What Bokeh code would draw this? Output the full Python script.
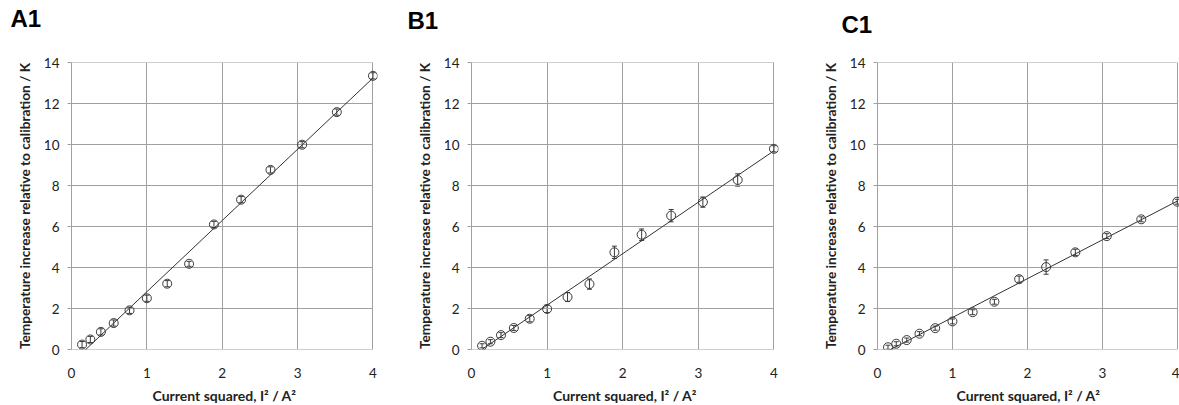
import numpy as np
from bokeh.plotting import figure
from bokeh.layouts import row
from bokeh.models import ColumnDataSource, Whisker, TeeHead, Range1d, FixedTicker, Title
from bokeh.embed import file_html
from bokeh.resources import INLINE

# ---- data ----
current_sq = [0.14, 0.25, 0.39, 0.56, 0.77, 1.00, 1.27, 1.56, 1.89, 2.25, 2.64, 3.06, 3.52, 4.00]

a1_temp = [0.24, 0.49, 0.86, 1.29, 1.91, 2.50, 3.21, 4.18, 6.10, 7.31, 8.76, 9.99, 11.58, 13.35]
a1_err = [0.15, 0.15, 0.15, 0.15, 0.15, 0.15, 0.15, 0.12, 0.15, 0.15, 0.15, 0.15, 0.15, 0.15]

b1_temp = [0.18, 0.38, 0.70, 1.05, 1.50, 1.98, 2.56, 3.19, 4.74, 5.60, 6.53, 7.19, 8.27, 9.79]
b1_err = [0.10, 0.10, 0.12, 0.12, 0.15, 0.18, 0.22, 0.25, 0.30, 0.28, 0.30, 0.25, 0.30, 0.15]

c1_temp = [0.11, 0.28, 0.46, 0.77, 1.04, 1.37, 1.82, 2.33, 3.43, 4.02, 4.74, 5.53, 6.35, 7.21]
c1_err = [0.10, 0.10, 0.10, 0.10, 0.10, 0.12, 0.12, 0.12, 0.15, 0.35, 0.15, 0.12, 0.12, 0.12]

x_ticks = [0, 1, 2, 3, 4]
y_ticks = [0, 2, 4, 6, 8, 10, 12, 14]
x_lim = (0, 4)
y_lim = (0, 14)

x_label = "Current squared, I\u00b2 / A\u00b2"
y_label = "Temperature increase relative to calibration / K"

GRID = "#a0a0a0"
MARK = "#3a3a3a"
FONT = "Lato"


def panel(name, temps, errs, left, fw, right, xmax, t_off, gap):
    p = figure(frame_width=fw, frame_height=287,
               min_border_left=left, min_border_right=right,
               min_border_top=62, min_border_bottom=56,
               x_range=Range1d(x_lim[0], xmax), y_range=Range1d(*y_lim),
               output_backend="svg", toolbar_location=None)
    p.outline_line_color = None
    p.background_fill_color = "white"
    p.border_fill_color = "white"

    # panel letter (outer), blank spacer title next to the frame
    p.title.text = name
    p.title.align = "left"
    p.title.vertical_align = "top"
    p.title.offset = t_off
    p.title.standoff = 0
    p.title.text_font = "Liberation Sans"
    p.title.text_font_style = "bold"
    p.title.text_font_size = "24px"
    p.title.text_color = "black"
    p.add_layout(Title(text=" ", text_font_size="12px", standoff=gap), "above")

    # grid
    p.xgrid.ticker = FixedTicker(ticks=x_ticks)
    p.xgrid.grid_line_color = GRID
    p.xgrid.grid_line_width = 1
    p.ygrid.visible = False
    p.segment(x0=x_lim[0], x1=x_lim[1], y0=y_ticks, y1=y_ticks,
              line_color=GRID, line_width=1)

    # axes
    p.xaxis.ticker = FixedTicker(ticks=x_ticks)
    p.yaxis.ticker = FixedTicker(ticks=y_ticks)
    p.xaxis.axis_line_color = None
    p.xaxis.major_tick_line_color = None
    p.xaxis.minor_tick_line_color = None
    p.xaxis.major_label_standoff = 12
    p.yaxis.axis_line_color = GRID
    p.yaxis.major_tick_line_color = GRID
    p.yaxis.major_tick_out = 4
    p.yaxis.major_tick_in = 0
    p.yaxis.minor_tick_line_color = None
    p.yaxis.major_label_standoff = 8
    for ax in (p.xaxis, p.yaxis):
        ax.major_label_text_font = FONT
        ax.major_label_text_font_size = "13.5px"
        ax.major_label_text_color = "#222222"
        ax.axis_label_text_font = FONT
        ax.axis_label_text_font_style = "bold"
        ax.axis_label_text_color = "#222222"
    p.xaxis.axis_label = x_label
    p.xaxis.axis_label_text_font_size = "14px"
    p.xaxis.axis_label_standoff = 6
    p.yaxis.axis_label = y_label
    p.yaxis.axis_label_text_font_size = "13.7px"
    p.yaxis.axis_label_standoff = 8

    # trendline (least-squares fit)
    coef = np.polyfit(current_sq, temps, 1)
    xs = [min(current_sq), max(current_sq)]
    p.line(xs, np.polyval(coef, xs), line_color="#333333", line_width=1)

    src = ColumnDataSource(dict(
        x=current_sq, y=temps,
        lo=[t - e for t, e in zip(temps, errs)],
        hi=[t + e for t, e in zip(temps, errs)],
    ))
    p.add_layout(Whisker(source=src, base="x", upper="hi", lower="lo",
                         line_color=MARK, line_width=1,
                         upper_head=TeeHead(size=5, line_color=MARK, line_width=1),
                         lower_head=TeeHead(size=5, line_color=MARK, line_width=1)))
    p.scatter("x", "y", source=src, marker="circle", size=9,
              fill_color=None, line_color=MARK, line_width=1)
    return p


pa = panel("A1", a1_temp, a1_err, 71, 306, 16, 4.06, -61, 13)
pb = panel("B1", b1_temp, b1_err, 78, 307, 8, 4.06, -64, 11)
pc = panel("C1", c1_temp, c1_err, 91, 302, 0, 4.03, -36, 7)

layout = row(pa, pb, pc, spacing=0)
open("out.html", "w").write(file_html(layout, INLINE))
